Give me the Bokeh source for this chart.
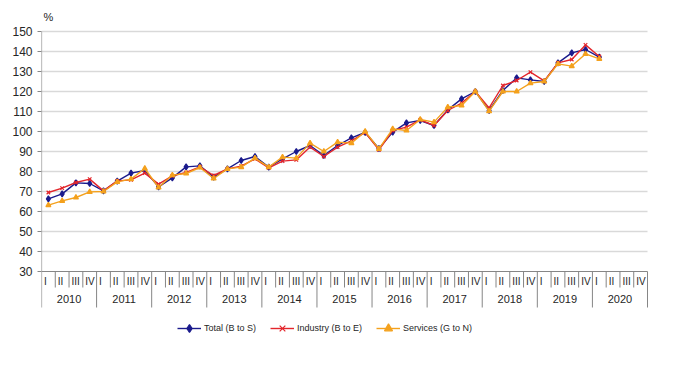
from bokeh.plotting import figure
from bokeh.models import FixedTicker, Range1d, Legend, LegendItem
from bokeh.core.properties import value
from bokeh.embed import file_html
from bokeh.resources import INLINE

years = [str(y) for y in range(2010, 2021)]
quarters = ["I", "II", "III", "IV"]

total = [66.3, 68.8, 74.3, 74.0, 70.3, 75.2, 79.2, 80.5, 72.3, 76.8, 82.3, 82.8,
         77.2, 81.3, 85.5, 87.5, 82.2, 86.3, 90.0, 93.0, 88.0, 93.0, 96.8, 99.5,
         91.5, 99.7, 104.3, 105.5, 103.0, 110.8, 116.3, 120.0, 110.5, 120.5, 126.8,
         125.8, 125.0, 134.3, 139.3, 141.0, 137.2]
industry = [69.5, 71.7, 74.5, 76.2, 70.3, 75.3, 75.8, 79.2, 73.7, 77.8, 79.5, 82.3,
            78.0, 81.3, 82.7, 86.3, 81.8, 85.2, 85.8, 92.2, 87.5, 92.2, 95.3, 99.5,
            90.8, 100.5, 102.2, 105.8, 103.0, 110.5, 114.2, 120.0, 111.8, 123.0, 125.5,
            129.7, 125.3, 134.3, 136.0, 143.3, 137.5]
services = [63.2, 65.3, 67.0, 69.8, 70.0, 74.8, 76.2, 81.5, 72.0, 78.2, 79.0, 82.0,
            76.5, 81.3, 82.2, 86.7, 82.2, 87.2, 86.7, 94.2, 90.0, 94.7, 94.2, 100.0,
            91.3, 101.3, 100.5, 106.0, 104.7, 112.2, 113.0, 120.0, 110.2, 120.0, 120.0,
            124.2, 125.0, 133.8, 132.7, 138.8, 136.3]
y_ticks = list(range(30, 151, 10))
series_names = ["Total (B to S)", "Industry (B to E)", "Services (G to N)"]
unit_label = "%"

FONT = value("Liberation Sans")
W, H = 673, 353
LEFT = 41
TOP = 31
n_q = len(years) * len(quarters)
qpx = 606 / n_q
y_top = 150 + TOP / 2
y_bot = y_top - H / 2

p = figure(width=W, height=H, output_backend="svg", toolbar_location=None,
           x_range=Range1d(0, (W - LEFT) / qpx), y_range=Range1d(y_bot, y_top),
           min_border_left=LEFT, min_border_right=0, min_border_top=0, min_border_bottom=0,
           x_axis_location=None)
p.outline_line_color = None
p.xgrid.grid_line_color = None
p.ygrid.grid_line_color = None
p.background_fill_color = "white"

yax = p.yaxis[0]
yax.ticker = FixedTicker(ticks=y_ticks)
yax.axis_line_color = None
yax.major_tick_line_color = "#868686"
yax.major_tick_out = 4
yax.major_tick_in = 0
yax.minor_tick_line_color = None
yax.major_label_standoff = 5
yax.major_label_text_font = "Liberation Sans"
yax.major_label_text_font_size = "12px"
yax.major_label_text_color = "#262626"

GRID = "#d9d9d9"
AX = "#868686"
# gridlines
p.segment(x0=[0] * (len(y_ticks) - 1), x1=[n_q] * (len(y_ticks) - 1),
          y0=y_ticks[1:], y1=y_ticks[1:], line_color=GRID, line_width=1.3)
# x axis line
p.segment(x0=[0], x1=[n_q], y0=[y_ticks[0]], y1=[y_ticks[0]], line_color=AX, line_width=1.2)
# y axis line
p.segment(x0=[0], x1=[0], y0=[12], y1=[150], line_color=AX, line_width=1.2)

# separators
qx = [k for k in range(1, n_q) if k % 4 != 0]
p.segment(x0=qx, x1=qx, y0=[30] * len(qx), y1=[22] * len(qx), line_color=AX, line_width=1)
yx = [k for k in range(4, n_q + 1, 4)]
p.segment(x0=yx, x1=yx, y0=[30] * len(yx), y1=[12] * len(yx), line_color=AX, line_width=1)

# quarter labels
ql_x = list(range(n_q))
ql_t = [quarters[k % 4] for k in range(n_q)]
p.text(x=ql_x, y=[25] * n_q, text=ql_t, x_offset=2.5, text_align="left",
       text_baseline="middle", text_font=FONT, text_font_size="10px", text_color="#262626")
# year labels
yl_x = [4 * k + 2 for k in range(len(years))]
p.text(x=yl_x, y=[16.5] * len(years), text=years, text_align="center",
       text_baseline="middle", text_font=FONT, text_font_size="11px", text_color="#262626")
# unit
p.text(x=[0.5], y=[157.5], text=[unit_label], text_align="center", text_baseline="middle",
       text_font=FONT, text_font_size="11px", text_color="#262626")

xs = [i + 0.5 for i in range(len(total))]
colors = ["#1a1a8c", "#e3262c", "#f4a11d"]
markers = ["diamond", "x", "triangle"]
sizes = [6, 5, 5]
items = []
for name, vals, c, m, s in zip(series_names, [total, industry, services], colors, markers, sizes):
    r1 = p.line(xs, vals, line_color=c, line_width=1.4)
    r2 = p.scatter(xs, vals, marker=m, size=s, line_color=c, fill_color=c, line_width=1.2)
    items.append(LegendItem(label=name, renderers=[r1, r2]))

legend = Legend(items=items, orientation="horizontal", location=(136, 15), padding=0, margin=0,
                spacing=14, label_standoff=3, glyph_width=24, glyph_height=20, label_height=20,
                border_line_color=None, background_fill_alpha=0,
                label_text_font="Liberation Sans", label_text_font_size="9px",
                label_text_color="#262626")
p.add_layout(legend)

open("out.html", "w").write(file_html(p, INLINE))
